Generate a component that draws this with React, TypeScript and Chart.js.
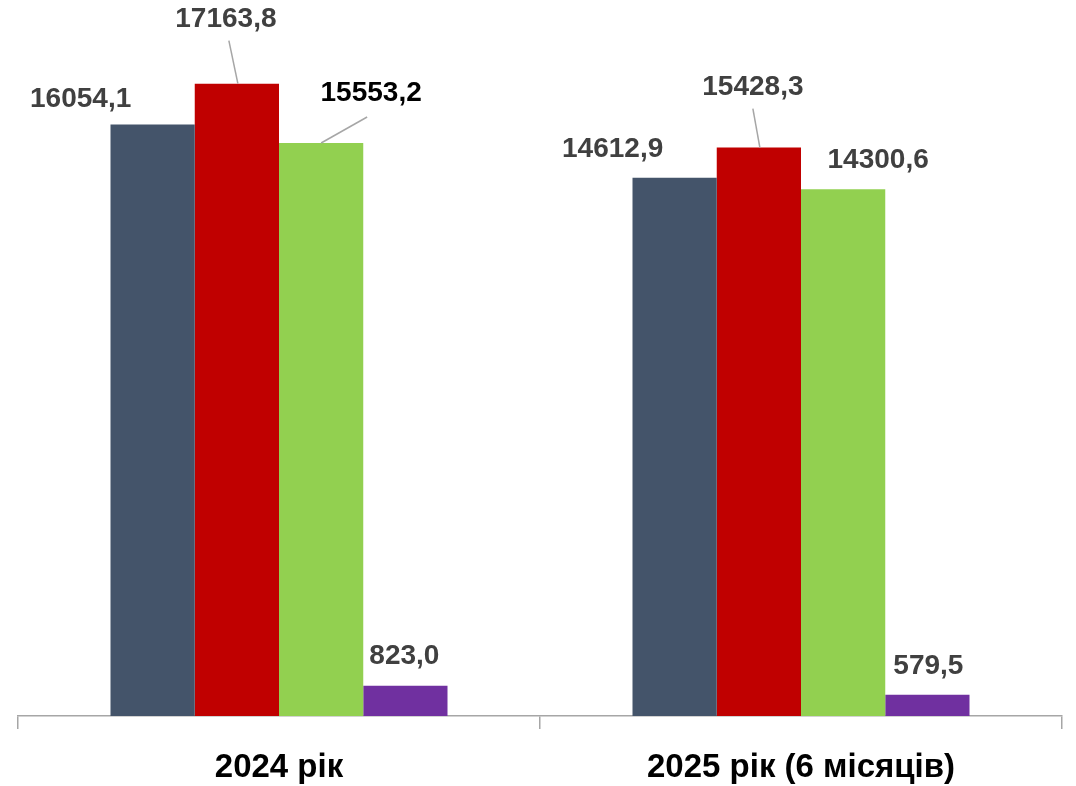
import React, { useEffect, useRef } from "react";
import { Chart, registerables } from "chart.js";

Chart.register(...registerables);

const categories = ["2024 рік", "2025 рік (6 місяців)"];
const seriesA = [16054.1, 14612.9];
const seriesB = [17163.8, 15428.3];
const seriesC = [15553.2, 14300.6];
const seriesD = [823.0, 579.5];
const seriesNames = ["Ряд 1", "Ряд 2", "Ряд 3", "Ряд 4"];
const seriesColors = ["#44546A", "#C00000", "#92D050", "#7030A0"];

// label placement relative to bar top-centre: [dx, dy, leader, color]
const labelPlacement: [number, number, boolean, string][][] = [
  [[-72, -25, false, "#404040"], [-62, -28, false, "#404040"]],
  [[-11, -64, true, "#404040"], [-6, -60, true, "#404040"]],
  [[50, -50, true, "#000000"], [35, -29, false, "#404040"]],
  [[-1, -29, false, "#404040"], [1, -28, false, "#404040"]],
];

const fmt = (v: number) => v.toFixed(1).replace(".", ",");

const labelPlugin = {
  id: "barLabels",
  afterDatasetsDraw(chart: any) {
    const ctx = chart.ctx as CanvasRenderingContext2D;
    ctx.save();
    ctx.font = "bold 28px 'Liberation Sans', Arial, sans-serif";
    ctx.textAlign = "center";
    ctx.textBaseline = "middle";
    chart.data.datasets.forEach((ds: any, i: number) => {
      const meta = chart.getDatasetMeta(i);
      meta.data.forEach((bar: any, j: number) => {
        const [dx, dy, leader, color] = labelPlacement[i][j];
        const lx = bar.x + dx;
        const ly = bar.y + dy;
        if (leader) {
          ctx.strokeStyle = "#A6A6A6";
          ctx.lineWidth = 1.5;
          ctx.beginPath();
          if (dx > 20) {
            ctx.moveTo(lx - 4, ly + 24);
          } else {
            ctx.moveTo(lx + (dx < -8 ? 3 : 0), ly + 21);
          }
          ctx.lineTo(bar.x + (dx > 20 ? 0 : 1), bar.y);
          ctx.stroke();
        }
        ctx.fillStyle = color;
        ctx.fillText(fmt(ds.data[j]), lx, ly);
      });
    });
    ctx.restore();
  },
};

export default function App() {
  const ref = useRef<HTMLCanvasElement | null>(null);
  useEffect(() => {
    document.body.style.margin = "0";
    const canvas = ref.current!;
    const datasets = [seriesA, seriesB, seriesC, seriesD].map((d, i) => ({
      label: seriesNames[i],
      data: d,
      backgroundColor: seriesColors[i],
      borderWidth: 0,
      categoryPercentage: 0.6456,
      barPercentage: 1,
    }));
    const chart = new Chart(canvas, {
      type: "bar",
      data: { labels: categories, datasets },
      options: {
        responsive: false,
        animation: false,
        devicePixelRatio: 1,
        layout: { padding: { left: 18, right: 14, top: 16, bottom: 0 } },
        plugins: {
          legend: { display: false },
          tooltip: { enabled: false },
        },
        scales: {
          x: {
            grid: {
              display: true,
              drawOnChartArea: false,
              drawTicks: true,
              tickLength: 13,
              color: "#A6A6A6",
              lineWidth: 1.5,
              offset: true,
            },
            border: { display: true, color: "#A6A6A6", width: 1.5 },
            ticks: {
              color: "#000000",
              padding: 19,
              font: { family: "'Liberation Sans', Arial, sans-serif", size: 33, weight: "bold" },
            },
            afterFit: (scale: any) => {
              scale.height = 70;
            },
          },
          y: {
            display: false,
            min: 0,
            max: 19000,
          },
        },
      },
      plugins: [labelPlugin],
    } as any);
    return () => chart.destroy();
  }, []);
  return (
    <div style={{ width: 1076, height: 786 }}>
      <canvas ref={ref} width={1076} height={786} style={{ display: "block" }} />
    </div>
  );
}
